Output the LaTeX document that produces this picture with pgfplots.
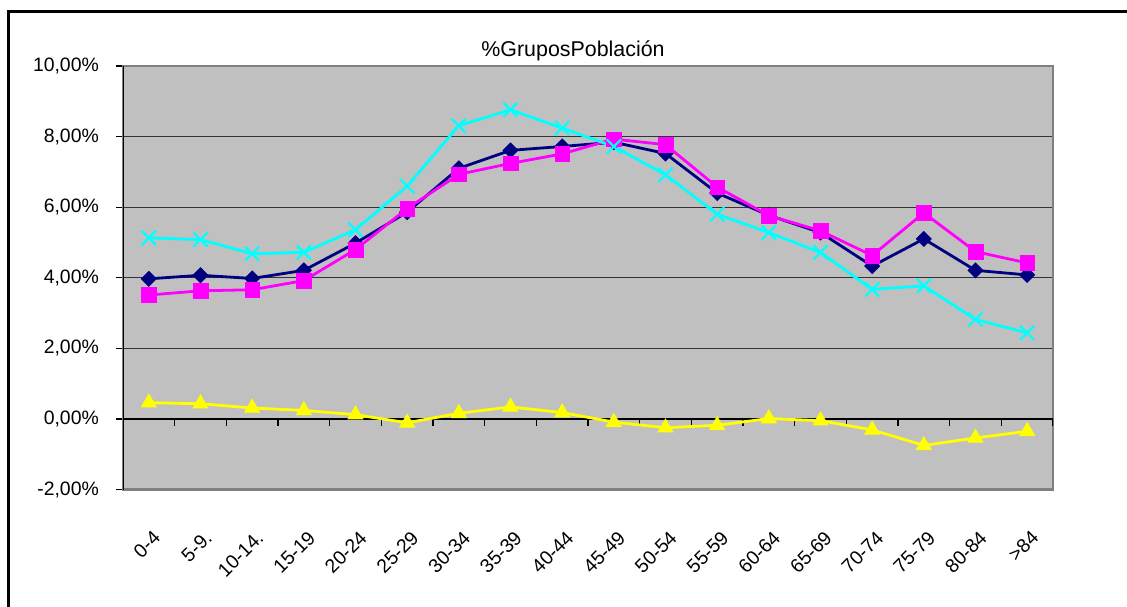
\documentclass[border=0pt]{standalone}
\usepackage{fontspec}
\setmainfont{Liberation Sans}
\usepackage{pgfplots}
\usepackage{pgfplotstable}
\pgfplotsset{compat=1.18}

\definecolor{plotgray}{HTML}{C0C0C0}
\definecolor{framegray}{HTML}{808080}
\definecolor{serNavy}{HTML}{000080}
\definecolor{serMag}{HTML}{FF00FF}
\definecolor{serCyan}{HTML}{00FFFF}
\definecolor{serYel}{HTML}{FFFF00}

% cat: 0-4 ... >84, values in %
\pgfplotstableread{
cat navy mag cyan yel
0  3.97 3.51 5.13  0.46
1  4.07 3.63 5.08  0.43
2  3.98 3.66 4.68  0.31
3  4.21 3.92 4.72  0.24
4  4.98 4.80 5.36  0.12
5  5.86 5.96 6.60 -0.11
6  7.10 6.93 8.31  0.16
7  7.61 7.24 8.76  0.34
8  7.72 7.51 8.24  0.18
9  7.84 7.93 7.72 -0.09
10 7.52 7.77 6.92 -0.25
11 6.40 6.57 5.80 -0.18
12 5.77 5.76 5.28  0.01
13 5.28 5.33 4.72 -0.05
14 4.33 4.63 3.67 -0.31
15 5.10 5.84 3.77 -0.75
16 4.21 4.74 2.82 -0.54
17 4.08 4.42 2.44 -0.35
}\grupos

\begin{document}
\begin{tikzpicture}[x=1pt,y=1pt]
\begin{scope}
  \clip (0,0) rectangle (1127,-607);
  \draw[black, line width=3pt] (8,-12) rectangle (1145,-630);
\end{scope}
\node[font=\fontsize{21.4}{24}\selectfont, inner sep=0pt] at (573,-51) {\%GruposPoblación};
\begin{axis}[
  at={(123pt,-489.5pt)}, anchor=south west,
  scale only axis, width=930pt, height=423.5pt,
  xmin=-0.5, xmax=17.5, ymin=-2, ymax=10,
  xtick={0,...,17},
  xticklabels={0-4,5-9.,10-14.,15-19,20-24,25-29,30-34,35-39,40-44,45-49,50-54,55-59,60-64,65-69,70-74,75-79,80-84,>84},
  x tick style={draw=none},
  ytick={-2,0,...,10},
  yticklabels={{-2,00\%},{0,00\%},{2,00\%},{4,00\%},{6,00\%},{8,00\%},{10,00\%}},
  ytick pos=left, tick align=outside, major tick length=7pt,
  y tick style={black, line width=1.3pt},
  ymajorgrids, major grid style={black!80, line width=1.3pt},
  axis background/.style={fill=plotgray},
  axis line style={framegray, line width=2.4pt},
  tick label style={font=\fontsize{19.4}{22}\selectfont},
  yticklabel style={anchor=east, inner sep=0pt, xshift=-17pt},
  xticklabel style={inner sep=0pt, anchor=north east, xshift=3pt, yshift=-33pt, rotate=45},
]
\draw[black, line width=1.6pt] (rel axis cs:0,0) -- (rel axis cs:0,1);
\draw[black, line width=1.3pt] (axis cs:-0.5,0) -- (axis cs:17.5,0);
\foreach \b in {-0.5,0.5,1.5,2.5,3.5,4.5,5.5,6.5,7.5,8.5,9.5,10.5,11.5,12.5,13.5,14.5,15.5,16.5,17.5}{
  \edef\tmp{\noexpand\draw[black, line width=1.3pt] (axis cs:\b,0) -- ([yshift=-7pt]axis cs:\b,0);}
  \tmp
}
\addplot[serNavy, line width=2.8pt, mark=square*, mark size=5.2pt,
  mark options={rotate=45, line width=1pt}] table[x=cat, y=navy]{\grupos};
\addplot[serMag, line width=2.8pt, mark=square*, mark size=7.3pt,
  mark options={line width=0.5pt}] table[x=cat, y=mag]{\grupos};
\addplot[serCyan, line width=2.8pt, mark=x, mark size=10pt,
  mark options={line width=2.2pt}] table[x=cat, y=cyan]{\grupos};
\addplot[serYel, line width=2.8pt, mark=triangle*, mark size=8.5pt,
  mark options={line width=1pt}] table[x=cat, y=yel]{\grupos};
\end{axis}
\pgfresetboundingbox
\useasboundingbox (0,0) rectangle (1127,-607);
\end{tikzpicture}
\end{document}
